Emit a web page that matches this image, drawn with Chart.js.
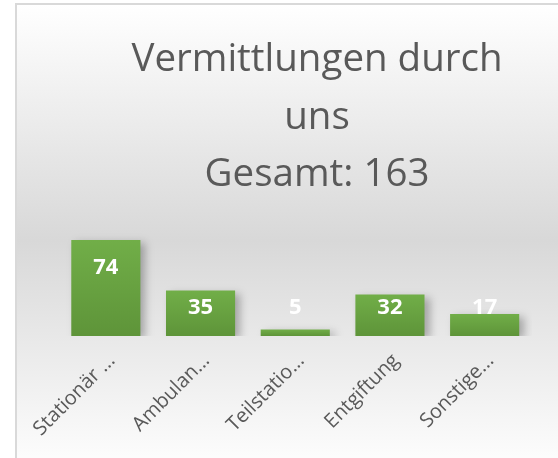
<!DOCTYPE html>
<html>
<head>
<meta charset="utf-8">
<script src="https://cdn.jsdelivr.net/npm/chart.js@4/dist/chart.umd.min.js"></script>
<style>
  html, body { margin: 0; padding: 0; width: 558px; height: 458px; overflow: hidden; background: #ffffff; }
  #box {
    position: absolute; left: 15px; top: 3px;
    width: 600px; height: 470px;
    border: 2px solid #d9d9d9;
    background: linear-gradient(to bottom, #ffffff 0%, #d8d8d8 50%, #ffffff 100%);
  }
  canvas { display: block; }
</style>
</head>
<body>
<div id="box"><canvas id="c" width="600" height="470"></canvas></div>
<script>
const titleLines = ["Vermittlungen durch", "uns", "Gesamt: 163"];
const categories = ["Stationär ...", "Ambulan...", "Teilstatio...", "Entgiftung", "Sonstige..."];
const values = [74, 35, 5, 32, 17];
const yMin = 0;
const yMax = 80;

function barGradient(ctx) {
  const chart = ctx.chart;
  const ys = chart.scales.y;
  if (!ys || ctx.raw === undefined) return '#6aa342';
  const top = ys.getPixelForValue(ctx.raw);
  const base = ys.getPixelForValue(0);
  if (!isFinite(top) || !isFinite(base) || top === base) return '#6aa342';
  const g = chart.ctx.createLinearGradient(0, top, 0, base);
  g.addColorStop(0, '#71ae48');
  g.addColorStop(1, '#5e9439');
  return g;
}

const shadowPlugin = {
  id: 'barShadow',
  beforeDatasetDraw(chart) {
    const c = chart.ctx;
    c.save();
    c.shadowColor = 'rgba(0,0,0,0.28)';
    c.shadowBlur = 8;
    c.shadowOffsetX = 5;
    c.shadowOffsetY = 3;
  },
  afterDatasetDraw(chart) {
    chart.ctx.restore();
  }
};

const labelPlugin = {
  id: 'valueLabels',
  afterDatasetsDraw(chart) {
    const c = chart.ctx;
    const meta = chart.getDatasetMeta(0);
    const area = chart.chartArea;
    c.save();
    c.fillStyle = '#ffffff';
    c.font = 'bold 22px "Open Sans"';
    c.textAlign = 'center';
    c.textBaseline = 'middle';
    meta.data.forEach((bar, i) => {
      const y = Math.min(bar.y + 28, area.bottom - 28);
      c.fillText(String(values[i]), bar.x, y);
    });
    c.restore();
  }
};

new Chart(document.getElementById('c'), {
  type: 'bar',
  data: {
    labels: categories,
    datasets: [{
      data: values,
      backgroundColor: barGradient,
      borderWidth: 0,
      barPercentage: 0.73,
      categoryPercentage: 1.0
    }]
  },
  options: {
    responsive: false,
    animation: false,
    layout: { padding: { left: 41.5, right: 41.5, top: 0, bottom: 0 } },
    plugins: {
      legend: { display: false },
      tooltip: { enabled: false },
      title: {
        display: true,
        text: titleLines,
        color: '#595959',
        font: { family: '"Open Sans"', size: 38.5, weight: 'normal', lineHeight: 1.5 },
        padding: { top: 26, bottom: 28 }
      }
    },
    scales: {
      x: {
        grid: { display: false, drawTicks: false },
        border: { display: false },
        ticks: {
          color: '#595959',
          font: { family: '"Open Sans"', size: 20 },
          minRotation: 45, maxRotation: 45,
          padding: 13,
          labelOffset: 6,
          autoSkip: false
        },
        afterFit(scale) { scale.height = 139; scale.paddingLeft = 0; scale.paddingRight = 0; }
      },
      y: {
        display: false,
        min: yMin, max: yMax
      },
      yr: {
        position: 'right',
        display: true,
        grid: { display: false, drawTicks: false },
        border: { display: false },
        ticks: { display: false },
        afterFit(scale) { scale.width = 43.5; }
      }
    }
  },
  plugins: [shadowPlugin, labelPlugin]
});
</script>
</body>
</html>
